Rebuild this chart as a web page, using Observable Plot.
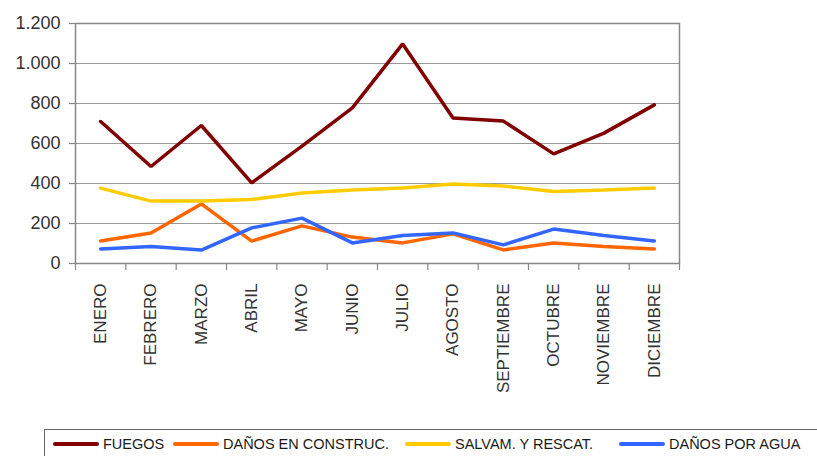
<!DOCTYPE html>
<html>
<head>
<meta charset="utf-8">
<script src="https://cdn.jsdelivr.net/npm/d3@7"></script>
<script src="https://cdn.jsdelivr.net/npm/@observablehq/plot@0.6"></script>
<style>
  body { margin: 0; background: #fff; font-family: "Liberation Sans", Arial, sans-serif; }
  #wrap { position: relative; width: 817px; height: 456px; overflow: hidden; }
  #legend { position: absolute; left: 44px; top: 429px; width: 800px; height: 40px;
    border: 1px solid #666; box-sizing: border-box; font-size: 14.5px; color: #1a1a1a; }
  .item { position: absolute; top: 6px; display: flex; align-items: center; white-space: nowrap; }
  .sw { display: inline-block; width: 46px; height: 4px; margin-right: 4px; border-radius: 2px; }
</style>
</head>
<body>
<div id="wrap"><div id="chart"></div><div id="legend"></div></div>
<script>
const months = ["ENERO","FEBRERO","MARZO","ABRIL","MAYO","JUNIO","JULIO","AGOSTO","SEPTIEMBRE","OCTUBRE","NOVIEMBRE","DICIEMBRE"];
const seriesNames = ["FUEGOS","DAÑOS EN CONSTRUC.","SALVAM. Y RESCAT.","DAÑOS POR AGUA"];
const fuegos = [710, 485, 690, 403, 587, 778, 1098, 727, 712, 548, 652, 793];
const construc = [113, 152, 298, 112, 188, 132, 103, 148, 68, 103, 85, 73];
const salvam = [377, 312, 312, 320, 352, 368, 378, 398, 388, 360, 368, 377];
const agua = [73, 85, 67, 178, 227, 103, 140, 153, 93, 172, 140, 113];
const colors = ["#800000", "#FF6600", "#FFCC00", "#3366FF"];
const yTicks = [0, 200, 400, 600, 800, 1000, 1200];

const allSeries = [fuegos, construc, salvam, agua];
const data = [];
allSeries.forEach((vals, s) => vals.forEach((v, i) => data.push({series: seriesNames[s], i: i + 0.5, value: v})));

const es = d3.formatLocale({decimal: ",", thousands: ".", grouping: [3], currency: ["", "€"]});
const fmt = es.format(",d");

const chart = Plot.plot({
  width: 817,
  height: 400,
  marginLeft: 75,
  marginRight: 138,
  marginTop: 23,
  marginBottom: 137,
  style: {fontFamily: "Liberation Sans, Arial, sans-serif", color: "#333", background: "#fff"},
  x: {type: "linear", domain: [0, 12]},
  y: {domain: [0, 1200]},
  color: {domain: seriesNames, range: colors},
  marks: [
    Plot.gridY(yTicks.filter(d => d > 0), {stroke: "#999", strokeOpacity: 1, strokeWidth: 1}),
    Plot.frame({stroke: "#888", strokeWidth: 1.5}),
    Plot.axisY({ticks: yTicks, tickFormat: fmt, tickSize: 6, tickPadding: 9, fontSize: 18, stroke: "#888", strokeWidth: 1.2, label: null}),
    Plot.axisX({ticks: d3.range(13), tickFormat: () => "", tickSize: 7, stroke: "#888", strokeWidth: 1.2, label: null}),
    Plot.axisX({ticks: months.map((m, i) => i + 0.5), tickFormat: d => months[Math.round(d - 0.5)], tickSize: 0, tickPadding: 20, tickRotate: -90, fontSize: 17, label: null}),
    Plot.line(data, {x: "i", y: "value", z: "series", stroke: "series", strokeWidth: 3.5, strokeLinejoin: "miter"})
  ]
});
document.getElementById("chart").appendChild(chart);

const legendPos = [8, 128, 360, 574];
const legend = document.getElementById("legend");
seriesNames.forEach((name, k) => {
  const it = document.createElement("div");
  it.className = "item";
  it.style.left = legendPos[k] + "px";
  const sw = document.createElement("span");
  sw.className = "sw";
  sw.style.background = colors[k];
  it.appendChild(sw);
  it.appendChild(document.createTextNode(name));
  legend.appendChild(it);
});
</script>
</body>
</html>
